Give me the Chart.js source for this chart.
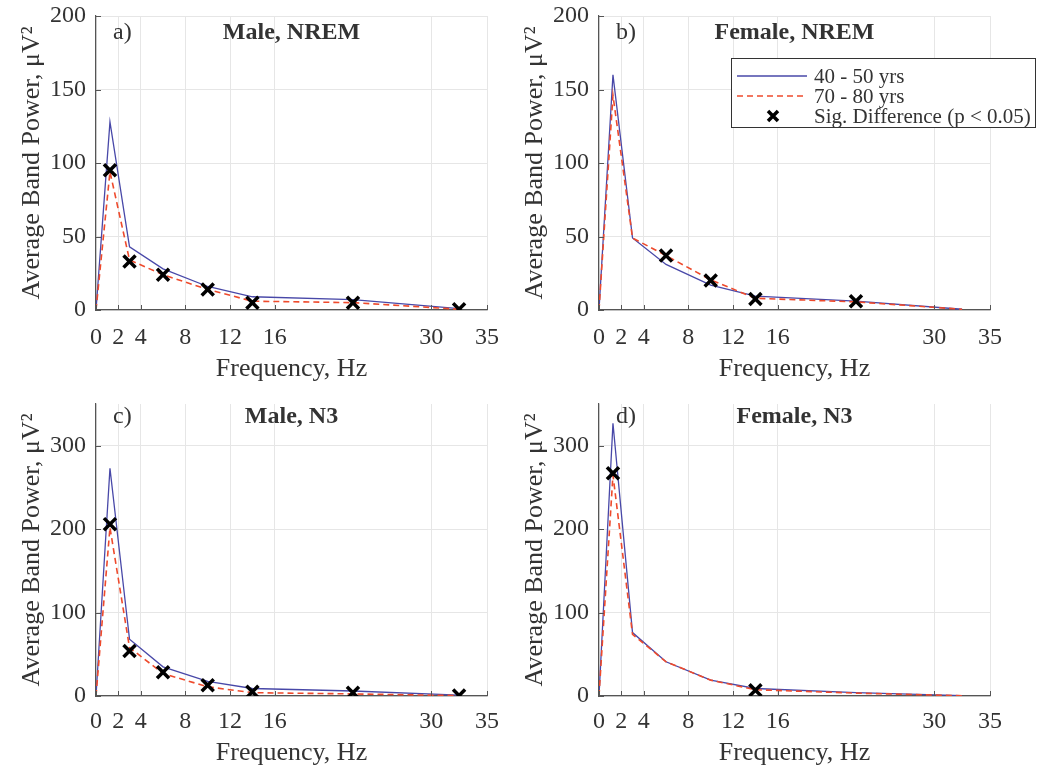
<!DOCTYPE html>
<html>
<head>
<meta charset="utf-8">
<script src="https://cdn.jsdelivr.net/npm/chart.js@4.4.1/dist/chart.umd.min.js"></script>
<style>
  html, body { margin: 0; padding: 0; background: #ffffff; overflow: hidden; }
  body { width: 1037px; height: 767px; position: relative; }
  canvas { position: absolute; }
</style>
</head>
<body>
<canvas id="pa" width="534" height="384" style="left:0px;top:0px"></canvas>
<canvas id="pb" width="534" height="384" style="left:503px;top:0px"></canvas>
<canvas id="pc" width="534" height="383" style="left:0px;top:384px"></canvas>
<canvas id="pd" width="534" height="383" style="left:503px;top:384px"></canvas>
<script>
// Band centre frequencies (Hz): delta, slow delta, theta, alpha, sigma, beta, gamma
const freqs = [0, 1.25, 3, 6, 10, 14, 23, 32.5];
const xTicks = [0, 2, 4, 8, 12, 16, 30, 35];
const yTicksNrem = [0, 50, 100, 150, 200];
const yTicksN3 = [0, 100, 200, 300];

// Male, NREM
const maleNremYoung = [0, 128, 43, 28, 16, 9, 7, 1];
const maleNremOld   = [0, 94, 34, 24, 14, 6, 5, 0.5];
const maleNremSigF  = [1.25, 3, 6, 10, 14, 23, 32.5];
const maleNremSigP  = [95, 33, 24, 14, 5, 5, 0.5];

// Female, NREM
const femaleNremYoung = [0, 160, 49, 31, 17, 9.5, 6, 0.5];
const femaleNremOld   = [0, 146, 49, 37, 20.5, 8, 5.5, 0.5];
const femaleNremSigF  = [6, 10, 14, 23];
const femaleNremSigP  = [37, 20, 7.5, 6];

// Male, N3
const maleN3Young = [0, 273, 68, 35, 17.5, 9, 6, 1];
const maleN3Old   = [0, 202, 58, 27, 11, 4, 2.5, 0.5];
const maleN3SigF  = [1.25, 3, 6, 10, 14, 23, 32.5];
const maleN3SigP  = [206, 54, 28.5, 13, 5, 4, 0.5];

// Female, N3
const femaleN3Young = [0, 327, 76, 41, 19, 9, 4, 0.5];
const femaleN3Old   = [0, 265, 74, 41, 19, 7.5, 3.5, 0.3];
const femaleN3SigF  = [1.25, 14];
const femaleN3SigP  = [267, 7];

const seriesNames = ['40 - 50 yrs', '70 - 80 yrs', 'Sig. Difference (p < 0.05)'];

const FONT = "'Liberation Serif', 'DejaVu Serif', serif";
const TEXT = '#333333';
const AXIS = '#555555';
const GRID = '#e6e6e6';
const BLUE = '#4848a8';
const RED = '#ee4a2c';

Chart.defaults.font.family = FONT;
Chart.defaults.color = TEXT;

function pairs(xs, ys) { return xs.map((x, i) => ({ x: x, y: ys[i] })); }

function drawCross(ctx, x, y, r, w) {
  ctx.save();
  ctx.strokeStyle = '#000000';
  ctx.lineWidth = w;
  ctx.beginPath();
  ctx.moveTo(x - r, y - r); ctx.lineTo(x + r, y + r);
  ctx.moveTo(x + r, y - r); ctx.lineTo(x - r, y + r);
  ctx.stroke();
  ctx.restore();
}

// Inward tick marks, panel letter, panel title and (optionally) the legend
const panelDecor = {
  id: 'panelDecor',
  afterDraw(chart, args, opts) {
    const ctx = chart.ctx;
    const area = chart.chartArea;
    const xs = chart.scales.x, ys = chart.scales.y;
    ctx.save();
    ctx.strokeStyle = AXIS;
    ctx.lineWidth = 1;
    ctx.beginPath();
    xs.ticks.forEach(t => {
      const px = Math.round(xs.getPixelForValue(t.value)) + 0.5;
      ctx.moveTo(px, area.bottom); ctx.lineTo(px, area.bottom - 5);
    });
    ys.ticks.forEach(t => {
      const py = Math.round(ys.getPixelForValue(t.value)) + 0.5;
      ctx.moveTo(area.left, py); ctx.lineTo(area.left + 5, py);
    });
    ctx.stroke();

    ctx.fillStyle = TEXT;
    ctx.textBaseline = 'middle';
    ctx.font = '24px ' + FONT;
    ctx.textAlign = 'left';
    ctx.fillText(opts.letter, area.left + 17, area.top + opts.titleDy);
    ctx.font = 'bold 24px ' + FONT;
    ctx.textAlign = 'center';
    ctx.fillText(opts.title, (area.left + area.right) / 2, area.top + opts.titleDy);

    if (opts.legend) {
      const bx = 228, by = 58, bw = 305, bh = 70;
      ctx.fillStyle = '#ffffff';
      ctx.fillRect(bx, by, bw, bh);
      ctx.strokeStyle = '#333333';
      ctx.lineWidth = 1;
      ctx.strokeRect(bx + 0.5, by + 0.5, bw - 1, bh - 1);
      const rows = [by + 18, by + 38, by + 58];
      ctx.lineWidth = 1.3;
      ctx.strokeStyle = BLUE;
      ctx.beginPath(); ctx.moveTo(bx + 6, rows[0]); ctx.lineTo(bx + 76, rows[0]); ctx.stroke();
      ctx.strokeStyle = RED;
      ctx.lineWidth = 1.6;
      ctx.setLineDash([6, 4]);
      ctx.beginPath(); ctx.moveTo(bx + 6, rows[1]); ctx.lineTo(bx + 76, rows[1]); ctx.stroke();
      ctx.setLineDash([]);
      drawCross(ctx, bx + 42, rows[2], 5, 3.5);
      ctx.fillStyle = TEXT;
      ctx.font = '21px ' + FONT;
      ctx.textAlign = 'left';
      ctx.textBaseline = 'middle';
      seriesNames.forEach((s, i) => ctx.fillText(s, bx + 83, rows[i] + 1));
    }
    ctx.restore();
  }
};

function makePanel(id, letter, title, young, old, sigF, sigP, yMax, yTicks, legend, geo) {
  new Chart(document.getElementById(id), {
    type: 'line',
    data: {
      datasets: [
        {
          label: seriesNames[2],
          data: pairs(sigF, sigP),
          showLine: false,
          pointStyle: 'crossRot',
          pointRadius: 8.5,
          pointBorderWidth: 3.5,
          pointBorderColor: '#000000',
          pointBackgroundColor: '#000000'
        },
        {
          label: seriesNames[1],
          data: pairs(freqs, old),
          borderColor: RED,
          borderWidth: 1.6,
          borderDash: [6, 4],
          pointRadius: 0,
          tension: 0
        },
        {
          label: seriesNames[0],
          data: pairs(freqs, young),
          borderColor: BLUE,
          borderWidth: 1.3,
          pointRadius: 0,
          tension: 0
        }
      ]
    },
    options: {
      responsive: false,
      animation: false,
      devicePixelRatio: 1,
      layout: { padding: { left: 0, top: geo.top, right: 47, bottom: 0 } },
      plugins: {
        legend: { display: false },
        tooltip: { enabled: false },
        panelDecor: { letter: letter, title: title, legend: legend, titleDy: geo.titleDy }
      },
      scales: {
        x: {
          type: 'linear',
          min: 0, max: 35,
          afterBuildTicks: s => { s.ticks = xTicks.map(v => ({ value: v })); },
          afterFit: s => { s.height = geo.xh; s.paddingLeft = 0; s.paddingRight = 0; },
          grid: { color: GRID, lineWidth: 1, drawTicks: false },
          border: { display: true, color: AXIS, width: 1.2 },
          ticks: { padding: geo.tickPad, font: { size: 24 }, color: TEXT, maxRotation: 0, autoSkip: false },
          title: { display: true, text: 'Frequency, Hz', font: { size: 26, lineHeight: 1 }, color: TEXT, padding: { top: 0, bottom: geo.titlePad } }
        },
        y: {
          type: 'linear',
          min: 0, max: yMax,
          afterBuildTicks: s => { s.ticks = yTicks.map(v => ({ value: v })); },
          afterFit: s => { s.width = 96; s.paddingTop = 0; s.paddingBottom = 0; },
          grid: { color: GRID, lineWidth: 1, drawTicks: false },
          border: { display: true, color: AXIS, width: 1.2 },
          ticks: { padding: 10, font: { size: 24 }, color: TEXT },
          title: { display: true, text: 'Average Band Power, μV²', font: { size: 26 }, color: TEXT, padding: { top: 17, bottom: 0 } }
        }
      }
    },
    plugins: [panelDecor]
  });
}

const upperGeo = { top: 16, xh: 74, tickPad: 13, titlePad: 2, titleDy: 17 };
const lowerGeo = { top: 20, xh: 71, tickPad: 11, titlePad: 1, titleDy: 13 };

makePanel('pa', 'a)', 'Male, NREM', maleNremYoung, maleNremOld, maleNremSigF, maleNremSigP, 200, yTicksNrem, false, upperGeo);
makePanel('pb', 'b)', 'Female, NREM', femaleNremYoung, femaleNremOld, femaleNremSigF, femaleNremSigP, 200, yTicksNrem, true, upperGeo);
makePanel('pc', 'c)', 'Male, N3', maleN3Young, maleN3Old, maleN3SigF, maleN3SigP, 350, yTicksN3, false, lowerGeo);
makePanel('pd', 'd)', 'Female, N3', femaleN3Young, femaleN3Old, femaleN3SigF, femaleN3SigP, 350, yTicksN3, false, lowerGeo);
</script>
</body>
</html>
